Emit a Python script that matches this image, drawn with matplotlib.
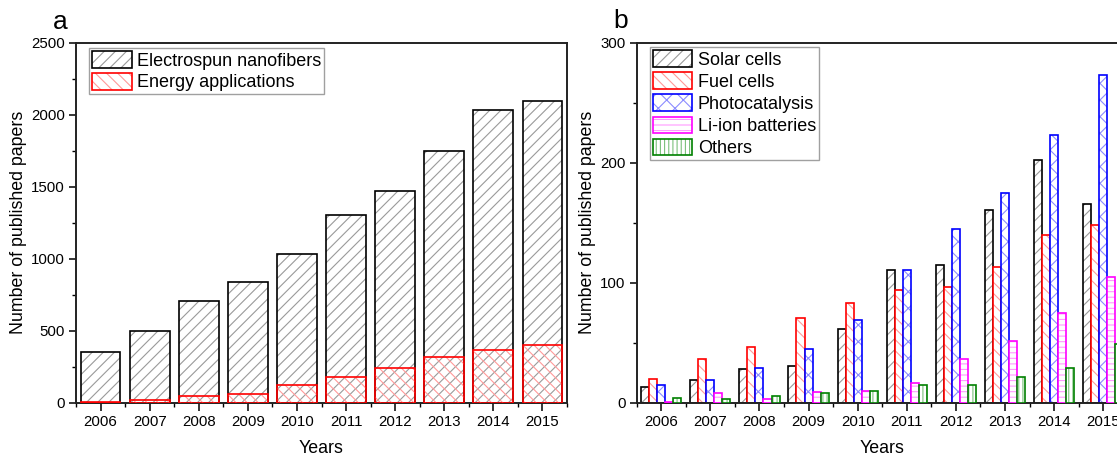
import matplotlib
matplotlib.use("Agg")
import matplotlib.pyplot as plt
import numpy as np
from matplotlib.patches import Patch
from matplotlib.ticker import MultipleLocator

plt.rcParams['font.family'] = ['Liberation Sans', 'DejaVu Sans']
plt.rcParams['hatch.linewidth'] = 0.8

years = [2006, 2007, 2008, 2009, 2010, 2011, 2012, 2013, 2014, 2015]

# panel a: papers per year
electrospun = [351, 497, 705, 842, 1031, 1304, 1473, 1746, 2030, 2095]
energy = [8, 19, 46, 62, 123, 180, 245, 321, 367, 402]

# panel b: energy applications split by field
solar = [13, 19, 28, 31, 62, 111, 115, 161, 202, 166]
fuel = [20, 37, 47, 71, 83, 94, 97, 113, 140, 148]
photo = [15, 19, 29, 45, 69, 111, 145, 175, 223, 273]
liion = [1, 8, 3, 9, 10, 17, 37, 52, 75, 105]
others = [4, 3, 6, 8, 10, 15, 15, 22, 29, 49]

# (edge colour, hatch colour, hatch)
sty_black = ('black', '#9a9a9a', '///')
sty_red = ('#ff0000', '#ff9a9a', '\\\\\\')
sty_blue = ('#0000ff', '#8c8cff', 'xx')
sty_mag = ('#ff00ff', '#ff9aff', '---')
sty_green = ('#008000', '#7cc07c', '||||')


def hbar(ax, x, h, w, sty, face='white', z=2):
    edge, hcol, hatch = sty
    ax.bar(x, h, w, color=face, edgecolor=hcol, hatch=hatch, linewidth=0, zorder=z)
    ax.bar(x, h, w, facecolor='none', edgecolor=edge, linewidth=1.2, zorder=z + 0.1)
    return (Patch(facecolor=face, edgecolor=hcol, hatch=hatch, linewidth=0),
            Patch(facecolor='none', edgecolor=edge, linewidth=1.2))


def style_axes(ax, ymax, ymaj, ymin):
    ax.set_xlim(2005.5, 2015.5)
    ax.set_ylim(0, ymax)
    ax.set_xticks(years)
    ax.set_xticklabels([str(y) for y in years])
    ax.xaxis.set_minor_locator(MultipleLocator(1, offset=0.5))
    ax.yaxis.set_major_locator(MultipleLocator(ymaj))
    ax.yaxis.set_minor_locator(MultipleLocator(ymin))
    ax.tick_params(which='major', direction='out', length=5, width=1.1, labelsize=10.8, pad=3)
    ax.tick_params(which='minor', direction='out', length=3, width=1.0)
    ax.tick_params(axis='x', which='major', length=6)
    for sp in ax.spines.values():
        sp.set_linewidth(1.4)
        sp.set_color('#222222')
    ax.set_xlabel('Years', fontsize=12.8)
    ax.set_ylabel('Number of published papers', fontsize=12.8)
    ax.xaxis.set_label_coords(0.5, -0.102)


fig = plt.figure(figsize=(11.17, 4.54), dpi=100)
W, H = 1117.0, 454.0
ax1 = fig.add_axes([76 / W, 51 / H, 491 / W, 360.3 / H])
ax2 = fig.add_axes([636.7 / W, 51 / H, 491 / W, 360.3 / H])

x = np.array(years)

# --- a ---
h_el = hbar(ax1, x, electrospun, 0.81, sty_black, face='white', z=2)
h_en = hbar(ax1, x, energy, 0.81, sty_red, face='none', z=3)
style_axes(ax1, 2500, 500, 250)
ax1.yaxis.set_label_coords(-0.1, 0.5)
leg1 = ax1.legend([h_el, h_en], ['Electrospun nanofibers', 'Energy applications'],
                  loc='upper left', bbox_to_anchor=(0.027, 0.984), borderaxespad=0,
                  fontsize=13, handlelength=2.2, handleheight=1.05, labelspacing=0.17,
                  handletextpad=0.3, borderpad=0.15, fancybox=False, framealpha=1)
leg1.get_frame().set_edgecolor('#a0a0a0')
leg1.get_frame().set_linewidth(1.0)

# --- b ---
bw = 0.164
series = [(solar, sty_black, 'Solar cells'),
          (fuel, sty_red, 'Fuel cells'),
          (photo, sty_blue, 'Photocatalysis'),
          (liion, sty_mag, 'Li-ion batteries'),
          (others, sty_green, 'Others')]
handles = []
for i, (vals, sty, lab) in enumerate(series):
    handles.append(hbar(ax2, x + (i - 2) * bw, vals, bw, sty, face='white', z=2 + i * 0.2))
style_axes(ax2, 300, 100, 50)
ax2.yaxis.set_label_coords(-0.082, 0.5)
leg2 = ax2.legend(handles, [s[2] for s in series],
                  loc='upper left', bbox_to_anchor=(0.027, 0.987), borderaxespad=0,
                  fontsize=13, handlelength=2.2, handleheight=1.05, labelspacing=0.2,
                  handletextpad=0.3, borderpad=0.15, fancybox=False, framealpha=1)
leg2.get_frame().set_edgecolor('#a0a0a0')
leg2.get_frame().set_linewidth(1.0)

fig.text(53 / W, 1 - 29 / H, 'a', fontsize=19, va='baseline', ha='left')
fig.text(613 / W, 1 - 28 / H, 'b', fontsize=19, va='baseline', ha='left')

fig.savefig('out.png', dpi=100)
